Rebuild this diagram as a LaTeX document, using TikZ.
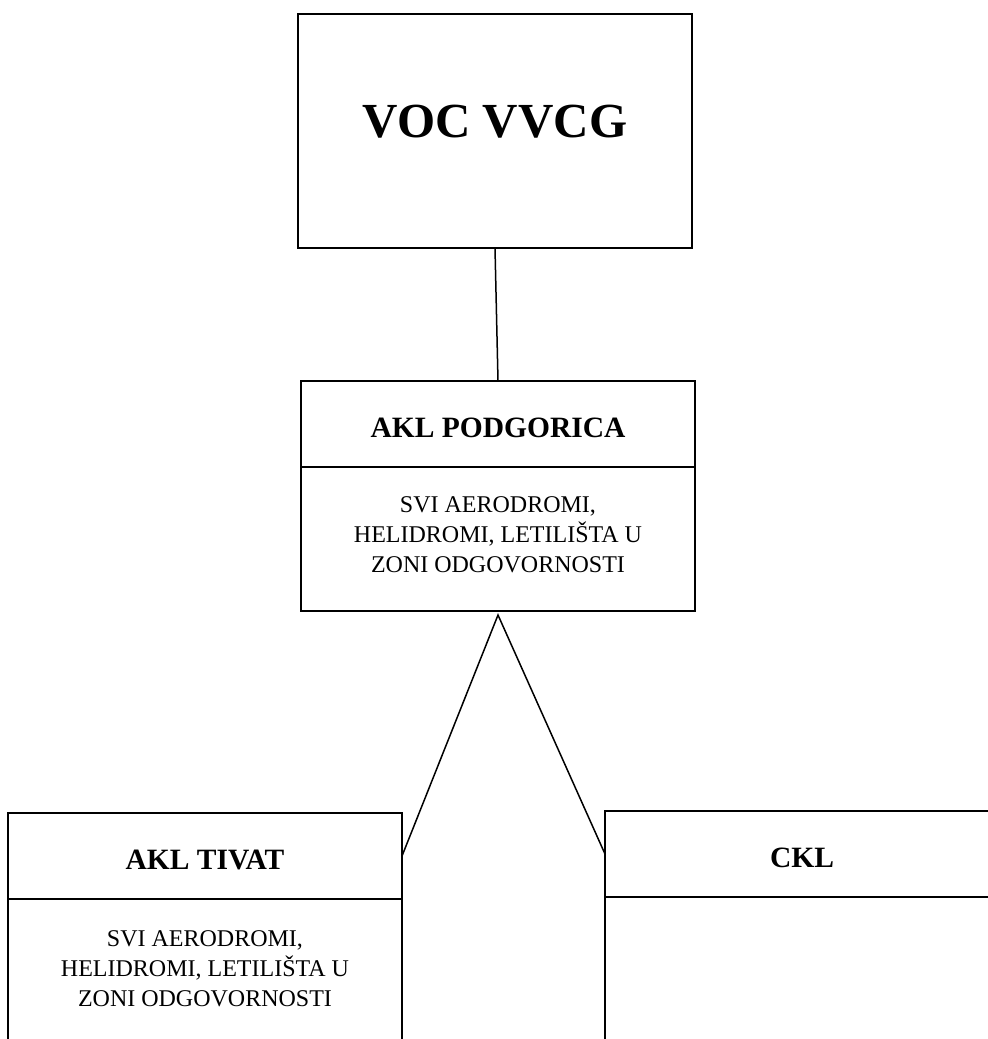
\documentclass[tikz,border=0pt]{standalone}
\usepackage{fontspec}
\setmainfont{Liberation Serif}
\begin{document}
\begin{tikzpicture}[x=1pt,y=-1pt,
  box/.style={draw=black,line width=1.5pt,rectangle,inner sep=0pt,outer sep=0pt,minimum width=394pt},
  bigtitle/.style={font={\fontsize{49}{56}\selectfont\bfseries},anchor=base,inner sep=0pt},
  headtext/.style={font={\fontsize{29.5}{34}\selectfont\bfseries},anchor=base,inner sep=0pt},
  bodytext/.style={font={\fontsize{24}{30}\selectfont},align=center,inner sep=0pt},
  link/.style={draw=black,line width=1.5pt}]
\useasboundingbox (0,0) rectangle (988,1039);
\clip (0,0) rectangle (988,1039);

% top level
\node[box,minimum height=234pt] (voc) at (495,131) {};
\node[bigtitle] (voct) at (495,137) {VOC VVCG};

% AKL Podgorica
\node[box,minimum height=86pt] (podh) at (498,424) {};
\node[box,minimum height=144pt] (podb) at (498,539) {};
\node[headtext] (podt) at (498,437) {AKL PODGORICA};
\node[bodytext] (podx) at (498,535) {SVI AERODROMI,\\HELIDROMI, LETILIŠTA U\\ZONI ODGOVORNOSTI};

% AKL Tivat
\node[box,minimum height=86pt] (tivh) at (205,856) {};
\node[box,minimum height=170pt] (tivb) at (205,984) {};
\node[headtext] (tivt) at (205,869) {AKL TIVAT};
\node[bodytext] (tivx) at (205,969) {SVI AERODROMI,\\HELIDROMI, LETILIŠTA U\\ZONI ODGOVORNOSTI};

% CKL
\node[box,minimum width=395pt,minimum height=86pt] (cklh) at (802.5,854) {};
\node[box,minimum width=395pt,minimum height=170pt] (cklb) at (802.5,982) {};
\node[headtext] (cklt) at (802,867) {CKL};

% connectors
\coordinate (apex) at (498,615);
\draw[link] (voc.south) -- (podh.north);
\draw[link,line join=miter] (tivh.east) -- (apex) -- (cklh.west);
\end{tikzpicture}
\end{document}
